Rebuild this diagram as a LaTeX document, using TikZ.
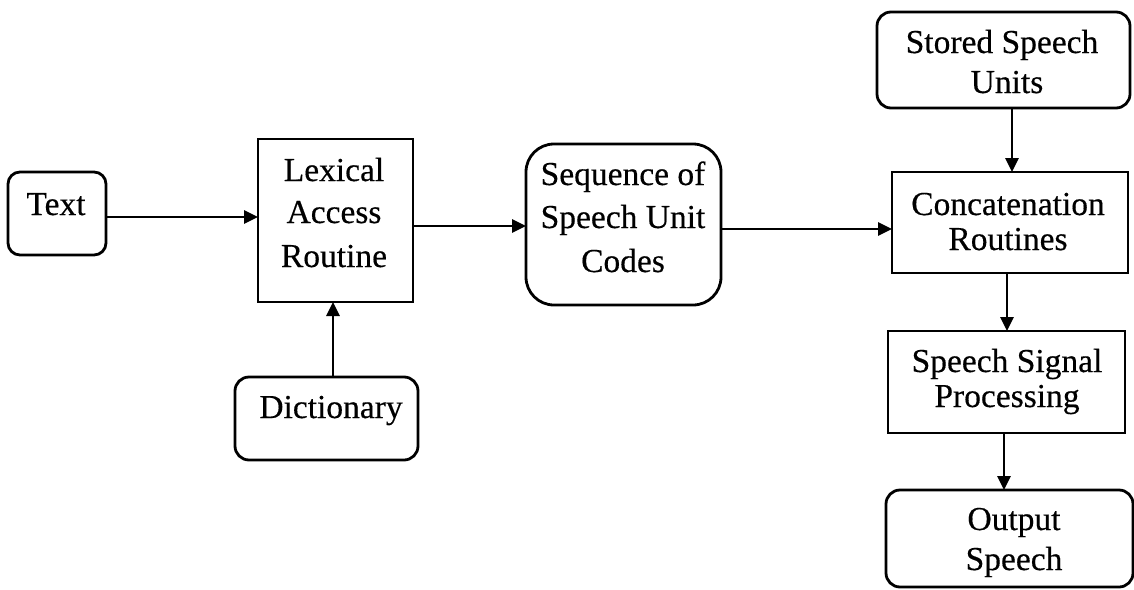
\documentclass[tikz,border=0pt]{standalone}
\usepackage{fontspec}
\setmainfont[FakeBold=0.4]{Liberation Serif}
\usetikzlibrary{arrows.meta}

\begin{document}
\begin{tikzpicture}[x=1pt,y=-1pt,
  every node/.style={inner sep=0pt, outer sep=0pt},
  blockbox/.style={draw, line width=2.8pt, rectangle},
  roundbox/.style={blockbox, rounded corners=14pt},
  word/.style={anchor=base, font=\fontsize{33.5}{40}\selectfont},
  arr/.style={line width=2.8pt, -{Triangle[length=14pt,width=13pt]}}]

\useasboundingbox (0,0) rectangle (1134,589);

% boxes
\node[roundbox, rounded corners=12pt, minimum width=98pt, minimum height=83pt] (txt) at (57,213.5) {};
\node[blockbox, minimum width=155pt, minimum height=163pt] (lex) at (335.5,220.5) {};
\node[roundbox, minimum width=183pt, minimum height=83pt] (dict) at (326.5,418.5) {};
\node[roundbox, rounded corners=28pt, minimum width=195pt, minimum height=161pt] (seq) at (623.5,224.5) {};
\node[roundbox, minimum width=253pt, minimum height=96pt] (stored) at (1003.5,60) {};
\node[blockbox, minimum width=236pt, minimum height=101pt] (concat) at (1010,222.5) {};
\node[blockbox, minimum width=237pt, minimum height=102pt] (signal) at (1006.5,382) {};
\node[roundbox, minimum width=247pt, minimum height=97pt] (out) at (1009.5,538.5) {};

% labels
\node[word] (t1) at (56,215) {Text};
\node[word] (l1) at (334,181) {Lexical};
\node[word] (l2) at (334,223) {Access};
\node[word] (l3) at (334,267) {Routine};
\node[word] (d1) at (331,418) {Dictionary};
\node[word] (s1) at (623,185) {Sequence of};
\node[word] (s2) at (623,228) {Speech Unit};
\node[word] (s3) at (623,272) {Codes};
\node[word] (u1) at (1002,53) {Stored Speech};
\node[word] (u2) at (1007,93) {Units};
\node[word] (c1) at (1008,215) {Concatenation};
\node[word] (c2) at (1008,250) {Routines};
\node[word] (p1) at (1007,372) {Speech Signal};
\node[word] (p2) at (1007,407) {Processing};
\node[word] (o1) at (1014,530) {Output};
\node[word] (o2) at (1014,570) {Speech};

% connectors
\draw[arr] ([yshift=-3.5pt]txt.east) -- ([yshift=-3.5pt]txt.east -| lex.west);
\draw[arr] ([xshift=6.5pt]dict.north) -- ([xshift=6.5pt]dict.north |- lex.south);
\draw[arr] ([yshift=-5.5pt]lex.east) -- ([yshift=-5.5pt]lex.east -| seq.west);
\draw[arr] ([yshift=-4.5pt]seq.east) -- ([yshift=-4.5pt]seq.east -| concat.west);
\draw[arr] ([xshift=8.5pt]stored.south) -- ([xshift=8.5pt]stored.south |- concat.north);
\draw[arr] ([xshift=-3pt]concat.south) -- ([xshift=-3pt]concat.south |- signal.north);
\draw[arr] ([xshift=-2.5pt]signal.south) -- ([xshift=-2.5pt]signal.south |- out.north);

\end{tikzpicture}
\end{document}
